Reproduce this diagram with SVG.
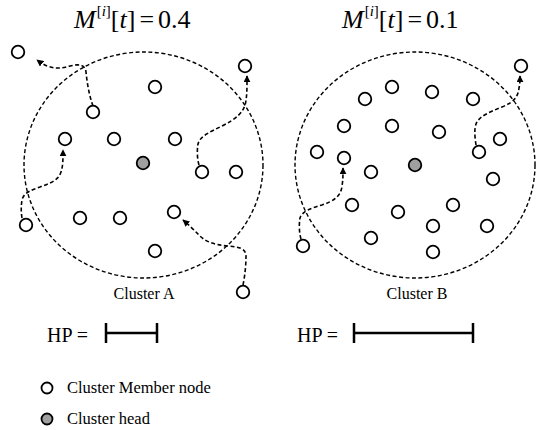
<svg xmlns="http://www.w3.org/2000/svg" width="537" height="430" viewBox="0 0 537 430">
<defs>
<style>
.t{font-family:"Liberation Serif","Times New Roman",serif;fill:#000}
.n{fill:#fff;stroke:#000;stroke-width:1.8}
.h{fill:#a0a0a0;stroke:#000;stroke-width:1.8}
.cl{fill:none;stroke:#000;stroke-width:1.4;stroke-dasharray:4 2.5}
.mv{fill:none;stroke:#000;stroke-width:1.6;stroke-dasharray:4 2.5}
.bar{stroke:#000;stroke-width:2.5;fill:none}
</style>
<marker id="ah" viewBox="0 0 10 10" refX="9" refY="5" markerWidth="7" markerHeight="7" markerUnits="userSpaceOnUse" orient="auto">
<path d="M0,0 L10,5 L0,10 z" fill="#000"/>
</marker>
</defs>
<rect width="537" height="430" fill="#fff"/>
<g id="titles">
<text class="t" font-size="26" x="74" y="28"><tspan font-style="italic">M</tspan><tspan dx="1" dy="-12" font-size="15">[</tspan><tspan font-size="15" font-style="italic">i</tspan><tspan font-size="15">]</tspan><tspan dy="12">[</tspan><tspan font-style="italic">t</tspan><tspan>]</tspan><tspan dx="4">=</tspan><tspan dx="4">0.4</tspan></text>
<text class="t" font-size="26" x="342" y="28"><tspan font-style="italic">M</tspan><tspan dx="1" dy="-12" font-size="15">[</tspan><tspan font-size="15" font-style="italic">i</tspan><tspan font-size="15">]</tspan><tspan dy="12">[</tspan><tspan font-style="italic">t</tspan><tspan>]</tspan><tspan dx="4">=</tspan><tspan dx="4">0.1</tspan></text>
</g>
<g id="clusterA">
<ellipse class="cl" cx="143.5" cy="165" rx="119.5" ry="113"/>
<text class="t" font-size="16" x="144" y="299" text-anchor="middle">Cluster A</text>
</g>
<g id="clusterB">
<ellipse class="cl" cx="415" cy="165" rx="120" ry="113"/>
<text class="t" font-size="16" x="417" y="299" text-anchor="middle">Cluster B</text>
</g>
<g id="connectors">
<path class="mv" d="M93,106 C89,95 87,82 86,72 C85,64 78,64 70,66 C60,69 50,70 37,60" marker-end="url(#ah)"/>
<path class="mv" d="M22,218 C21,212 21,206 22,200 C24,192 32,190 40,187 C50,183 58,181 61,172 C63,166 63,160 63,150" marker-end="url(#ah)"/>
<path class="mv" d="M199,165 C197,158 197,150 198,144 C200,136 210,132 222,126 C236,119 245,112 246,100 C247,94 247,88 247,76" marker-end="url(#ah)"/>
<path class="mv" d="M243,285 C245,275 246,265 246,256 C246,248 238,247 228,246 C215,245 205,242 198,234 C194,230 190,226 183,220" marker-end="url(#ah)"/>
<path class="mv" d="M301,239 C299,232 299,224 300,218 C302,211 312,208 322,205 C334,201 341,196 342,186 C343,180 343,176 343,168" marker-end="url(#ah)"/>
<path class="mv" d="M476,145 C475,138 474,130 476,124 C479,116 490,112 502,107 C514,102 518,97 519,88 C520,84 520,80 520,76" marker-end="url(#ah)"/>
</g>
<g id="nodesA">
<circle class="n" cx="18" cy="52" r="6.3"/>
<circle class="n" cx="93" cy="112" r="6.3"/>
<circle class="n" cx="155" cy="87" r="6.3"/>
<circle class="n" cx="245" cy="66" r="6.3"/>
<circle class="n" cx="65" cy="139" r="6.3"/>
<circle class="n" cx="114" cy="139" r="6.3"/>
<circle class="n" cx="175" cy="139" r="6.3"/>
<circle class="h" cx="143" cy="163" r="6.3"/>
<circle class="n" cx="202" cy="172" r="6.3"/>
<circle class="n" cx="236" cy="172" r="6.3"/>
<circle class="n" cx="26" cy="225" r="6.3"/>
<circle class="n" cx="80" cy="218" r="6.3"/>
<circle class="n" cx="120" cy="218" r="6.3"/>
<circle class="n" cx="174" cy="212" r="6.3"/>
<circle class="n" cx="155" cy="251" r="6.3"/>
<circle class="n" cx="243" cy="292" r="6.3"/>
</g>
<g id="nodesB">
<circle class="n" cx="392" cy="87" r="6.3"/>
<circle class="n" cx="365" cy="99" r="6.3"/>
<circle class="n" cx="432" cy="92" r="6.3"/>
<circle class="n" cx="473" cy="99" r="6.3"/>
<circle class="n" cx="521" cy="66" r="6.3"/>
<circle class="n" cx="344" cy="126" r="6.3"/>
<circle class="n" cx="392" cy="126" r="6.3"/>
<circle class="n" cx="439" cy="132" r="6.3"/>
<circle class="n" cx="500" cy="139" r="6.3"/>
<circle class="n" cx="317" cy="152" r="6.3"/>
<circle class="n" cx="344" cy="158" r="6.3"/>
<circle class="n" cx="479" cy="152" r="6.3"/>
<circle class="n" cx="371" cy="172" r="6.3"/>
<circle class="h" cx="415" cy="165" r="6.3"/>
<circle class="n" cx="493" cy="179" r="6.3"/>
<circle class="n" cx="352" cy="205" r="6.3"/>
<circle class="n" cx="398" cy="212" r="6.3"/>
<circle class="n" cx="453" cy="205" r="6.3"/>
<circle class="n" cx="433" cy="226" r="6.3"/>
<circle class="n" cx="487" cy="226" r="6.3"/>
<circle class="n" cx="371" cy="238" r="6.3"/>
<circle class="n" cx="433" cy="252" r="6.3"/>
<circle class="n" cx="303" cy="246" r="6.3"/>
</g>
<g id="hpA">
<text class="t" font-size="20" x="47" y="342">HP =</text>
<path class="bar" d="M106,323 V343 M157,323 V343 M106,333 H157"/>
</g>
<g id="hpB">
<text class="t" font-size="20" x="297" y="342">HP =</text>
<path class="bar" d="M354,323 V343 M473,323 V343 M354,333 H473"/>
</g>
<g id="legend">
<circle class="n" cx="47" cy="388" r="5.5"/>
<text class="t" font-size="16.5" x="67" y="393">Cluster Member node</text>
<circle class="h" cx="47" cy="419" r="5.5"/>
<text class="t" font-size="16.5" x="67" y="424">Cluster head</text>
</g>
</svg>
